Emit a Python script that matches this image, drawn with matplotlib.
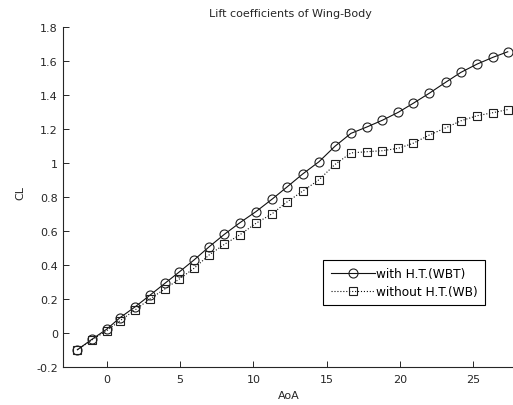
#!/usr/bin/env python3
# Lift coefficient vs angle of attack, wing-body with and without horizontal tail

import matplotlib
matplotlib.use('Agg')
from matplotlib import pyplot as plt

aoa = [-2.0, -1.0, 0.0, 0.91, 1.93, 2.95, 3.97, 4.95, 5.95, 7.0,
       8.02, 9.09, 10.18, 11.29, 12.27, 13.36, 14.47, 15.56, 16.65, 17.72,
       18.79, 19.88, 20.9, 21.99, 23.1, 24.15, 25.26, 26.35, 27.34]

cl_wbt = [-0.097, -0.035, 0.024, 0.092, 0.155, 0.224, 0.294, 0.361, 0.431, 0.51,
          0.582, 0.651, 0.716, 0.79, 0.859, 0.937, 1.009, 1.1, 1.176, 1.213,
          1.253, 1.3, 1.353, 1.412, 1.476, 1.535, 1.584, 1.624, 1.656]

cl_wb = [-0.097, -0.039, 0.015, 0.074, 0.137, 0.202, 0.261, 0.319, 0.382, 0.462,
         0.523, 0.58, 0.647, 0.704, 0.771, 0.836, 0.903, 0.993, 1.061, 1.068,
         1.074, 1.088, 1.118, 1.166, 1.208, 1.25, 1.28, 1.298, 1.316]

x_ticks = [0, 5, 10, 15, 20, 25]
y_ticks = [-0.2, 0, 0.2, 0.4, 0.6, 0.8, 1, 1.2, 1.4, 1.6, 1.8]
y_labels = ['-0.2', '0', '0.2', '0.4', '0.6', '0.8', '1', '1.2', '1.4', '1.6', '1.8']

INK = '#262626'


def main():
    plt.rcParams['font.family'] = ['DejaVu Sans']
    plt.rcParams['font.size'] = 8

    fig = plt.figure(figsize=(5.13, 4.06), dpi=100)
    ax = fig.add_axes([0.1222, 0.0929, 0.8864, 0.8374])

    ax.plot(aoa, cl_wbt, '-', color='#101010', linewidth=0.8,
            marker='o', markersize=6.5, markerfacecolor='none',
            markeredgecolor='#202020', markeredgewidth=0.8,
            label='with H.T.(WBT)')
    ax.plot(aoa, cl_wb, ':', color='#101010', linewidth=0.8,
            marker='s', markersize=5.5, markerfacecolor='none',
            markeredgecolor='#202020', markeredgewidth=0.8,
            label='without H.T.(WB)')

    ax.set_xlim(-3, 28)
    ax.set_ylim(-0.2, 1.8)
    ax.set_xticks(x_ticks)
    ax.set_yticks(y_ticks)
    ax.set_yticklabels(y_labels)
    ax.tick_params(direction='in', length=4, width=0.7, colors=INK,
                   labelcolor=INK)
    ax.tick_params(axis='x', pad=5)
    ax.tick_params(axis='y', pad=3.5)

    for side in ('top', 'right'):
        ax.spines[side].set_visible(False)
    for side in ('left', 'bottom'):
        ax.spines[side].set_linewidth(0.8)
        ax.spines[side].set_color(INK)

    ax.set_title('Lift coefficients of Wing-Body', fontsize=8, color=INK, pad=8)
    ax.set_xlabel('AoA', fontsize=8, color=INK)
    ax.set_ylabel('CL', fontsize=8, color=INK)
    ax.xaxis.set_label_coords(0.498, -0.066)
    ax.yaxis.set_label_coords(-0.082, 0.515)

    leg = ax.legend(loc='upper left', bbox_to_anchor=(0.6302, 0.3571),
                    bbox_transform=fig.transFigure, borderaxespad=0,
                    fancybox=False, framealpha=1, edgecolor='black',
                    handlelength=3.72, handletextpad=0.05,
                    borderpad=0.6, labelspacing=0.39, fontsize=8.7)
    leg.get_frame().set_linewidth(0.8)

    fig.savefig('out.png', dpi=100)


if __name__ == '__main__':
    main()
